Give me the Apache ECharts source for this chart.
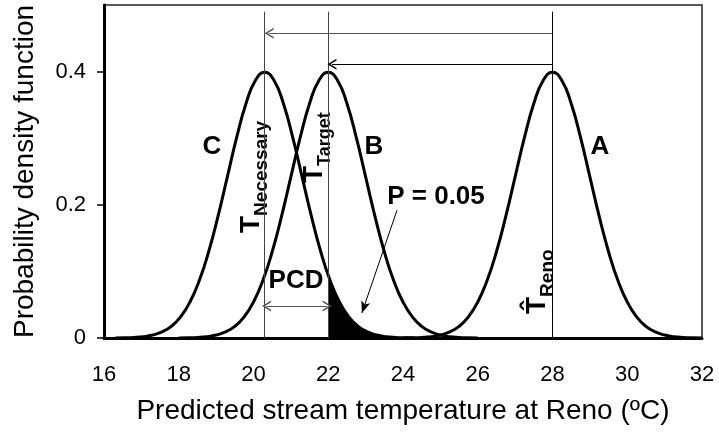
<!DOCTYPE html>
<html>
<head>
<meta charset="utf-8">
<script src="https://cdn.jsdelivr.net/npm/echarts@6/dist/echarts.min.js"></script>
<style>
  html, body { margin: 0; padding: 0; background: #fff; }
  #main { width: 719px; height: 436px; }
</style>
</head>
<body>
<div id="main"></div>
<script>
// curve shape (same bell for all three curves)
var pdfShape = [0.0001, 0.0004, 0.0009, 0.002, 0.0044, 0.0091, 0.0175, 0.0317, 0.054, 0.0863, 0.1295, 0.1826, 0.242, 0.3011, 0.3521, 0.3867, 0.3989,
                0.3867, 0.3521, 0.3011, 0.242, 0.1826, 0.1295, 0.0863, 0.054, 0.0317, 0.0175, 0.0091, 0.0044, 0.002, 0.0009, 0.0004, 0.0001];
// x positions of each curve
var xA = [24, 24.25, 24.5, 24.75, 25, 25.25, 25.5, 25.75, 26, 26.25, 26.5, 26.75, 27, 27.25, 27.5, 27.75, 28,
          28.25, 28.5, 28.75, 29, 29.25, 29.5, 29.75, 30, 30.25, 30.5, 30.75, 31, 31.25, 31.5, 31.75, 32];
var xB = [18, 18.25, 18.5, 18.75, 19, 19.25, 19.5, 19.75, 20, 20.25, 20.5, 20.75, 21, 21.25, 21.5, 21.75, 22,
          22.25, 22.5, 22.75, 23, 23.25, 23.5, 23.75, 24, 24.25, 24.5, 24.75, 25, 25.25, 25.5, 25.75, 26];
var xC = [16.3, 16.55, 16.8, 17.05, 17.3, 17.55, 17.8, 18.05, 18.3, 18.55, 18.8, 19.05, 19.3, 19.55, 19.8, 20.05, 20.3,
          20.55, 20.8, 21.05, 21.3, 21.55, 21.8, 22.05, 22.3, 22.55, 22.8, 23.05, 23.3, 23.55, 23.8, 24.05, 24.3];
// shaded tail of curve C above T target (P = 0.05)
var xTail = [22, 22.05, 22.3, 22.55, 22.8, 23.05, 23.3, 23.55, 23.8, 24.05, 24.3];
var yTail = [0.094, 0.0863, 0.054, 0.0317, 0.0175, 0.0091, 0.0044, 0.002, 0.0009, 0.0004, 0.0001];

var tNecessary = 20.3;
var tTarget = 22;
var tReno = 28;

function pairs(xs, ys) {
  var out = [];
  for (var i = 0; i < xs.length; i++) {
    out.push([xs[i], ys[i]]);
  }
  return out;
}

var font = 'Liberation Sans';
var chevron = 'path://M5,0 L10,10 L8.4,10 L5,3.2 L1.6,10 L0,10 Z';

// rich styles for the rotated T labels (subscript sits lower)
function tRich(subSize) {
  return {
    t: { fontFamily: font, fontWeight: 'bold', fontSize: 28, lineHeight: 28, verticalAlign: 'top', fill: '#000' },
    s: { fontFamily: font, fontWeight: 'bold', fontSize: subSize, lineHeight: 34, verticalAlign: 'bottom', fill: '#000' }
  };
}

var myChart = echarts.init(document.getElementById('main'));

var option = {
  animation: false,
  grid: {
    left: 104, right: 17, top: 5, bottom: 98,
    show: true, borderColor: '#222', borderWidth: 1.5
  },
  xAxis: {
    type: 'value', min: 16, max: 32, interval: 2,
    name: 'Predicted stream temperature at Reno (ºC)',
    nameLocation: 'middle', nameGap: 59,
    nameTextStyle: { fontFamily: font, fontSize: 28, color: '#000' },
    axisLine: { lineStyle: { color: '#000', width: 3 } },
    axisTick: { show: false },
    axisLabel: { margin: 26, fontFamily: font, fontSize: 22, color: '#000' },
    splitLine: { show: false }
  },
  yAxis: {
    type: 'value', min: 0, max: 0.5, interval: 0.2,
    name: 'Probability density function',
    nameLocation: 'middle', nameGap: 65,
    nameTextStyle: { fontFamily: font, fontSize: 28, color: '#000' },
    axisLine: { lineStyle: { color: '#000', width: 3 } },
    axisTick: { show: true, length: 7, lineStyle: { color: '#000', width: 1.5 } },
    axisLabel: { margin: 18, fontFamily: font, fontSize: 22, color: '#000', showMaxLabel: false },
    splitLine: { show: false }
  },
  series: [
    {
      name: 'tail', type: 'line', data: pairs(xTail, yTail), smooth: true,
      showSymbol: false, lineStyle: { width: 0 }, areaStyle: { color: '#000', opacity: 1 }
    },
    {
      name: 'C', type: 'line', data: pairs(xC, pdfShape), smooth: true,
      showSymbol: false, lineStyle: { color: '#000', width: 3 }
    },
    {
      name: 'B', type: 'line', data: pairs(xB, pdfShape), smooth: true,
      showSymbol: false, lineStyle: { color: '#000', width: 3 }
    },
    {
      name: 'A', type: 'line', data: pairs(xA, pdfShape), smooth: true,
      showSymbol: false, lineStyle: { color: '#000', width: 3 }
    },
    {
      name: 'marks', type: 'line', data: [],
      markLine: {
        silent: true,
        label: { show: false },
        data: [
          // vertical reference lines
          [{ coord: [tNecessary, 0], symbol: 'none', lineStyle: { color: '#444', width: 1, type: 'solid' } },
           { coord: [tNecessary, 0.49], symbol: 'none' }],
          [{ coord: [tTarget, 0], symbol: 'none', lineStyle: { color: '#444', width: 1, type: 'solid' } },
           { coord: [tTarget, 0.49], symbol: 'none' }],
          [{ coord: [tReno, 0], symbol: 'none', lineStyle: { color: '#000', width: 1, type: 'solid' } },
           { coord: [tReno, 0.49], symbol: 'none' }],
          // shift arrows
          [{ coord: [tReno, 0.4575], symbol: 'none', lineStyle: { color: '#555', width: 1.2, type: 'solid' } },
           { coord: [20.42, 0.4575], symbol: chevron, symbolSize: [11, 9] }],
          [{ coord: [tReno, 0.411], symbol: 'none', lineStyle: { color: '#000', width: 1.2, type: 'solid' } },
           { coord: [22.1, 0.411], symbol: chevron, symbolSize: [11, 9] }],
          // PCD
          [{ coord: [20.35, 0.048], symbol: chevron, symbolSize: [11, 9], lineStyle: { color: '#555', width: 1.2, type: 'solid' } },
           { coord: [21.97, 0.048], symbol: chevron, symbolSize: [11, 9] }],
          // P = 0.05 pointer
          [{ coord: [23.84, 0.192], symbol: 'none', lineStyle: { color: '#000', width: 1, type: 'solid' } },
           { coord: [22.9, 0.0375], symbol: 'arrow', symbolSize: [7, 12] }]
        ]
      }
    }
  ],
  graphic: [
    { type: 'text', x: 212, y: 147, style: { text: 'C', font: 'bold 26px ' + font, fill: '#000', align: 'center', verticalAlign: 'middle' } },
    { type: 'text', x: 374, y: 147, style: { text: 'B', font: 'bold 26px ' + font, fill: '#000', align: 'center', verticalAlign: 'middle' } },
    { type: 'text', x: 600, y: 147, style: { text: 'A', font: 'bold 26px ' + font, fill: '#000', align: 'center', verticalAlign: 'middle' } },
    { type: 'text', x: 436, y: 197, style: { text: 'P = 0.05', font: 'bold 26px ' + font, fill: '#000', align: 'center', verticalAlign: 'middle' } },
    { type: 'text', x: 296, y: 281, style: { text: 'PCD', font: 'bold 26px ' + font, fill: '#000', align: 'center', verticalAlign: 'middle' } },
    {
      type: 'text', x: 237, y: 233, rotation: Math.PI / 2,
      style: { text: '{t|T}{s|Necessary}', align: 'left', verticalAlign: 'top', rich: tRich(19) }
    },
    {
      type: 'text', x: 300, y: 183, rotation: Math.PI / 2,
      style: { text: '{t|T}{s|Target}', align: 'left', verticalAlign: 'top', rich: tRich(18) }
    },
    {
      type: 'text', x: 523, y: 314, rotation: Math.PI / 2,
      style: { text: '{t|T\u0302}{s|Reno}', align: 'left', verticalAlign: 'top', rich: tRich(19) }
    }
  ]
};

myChart.setOption(option);
</script>
</body>
</html>
